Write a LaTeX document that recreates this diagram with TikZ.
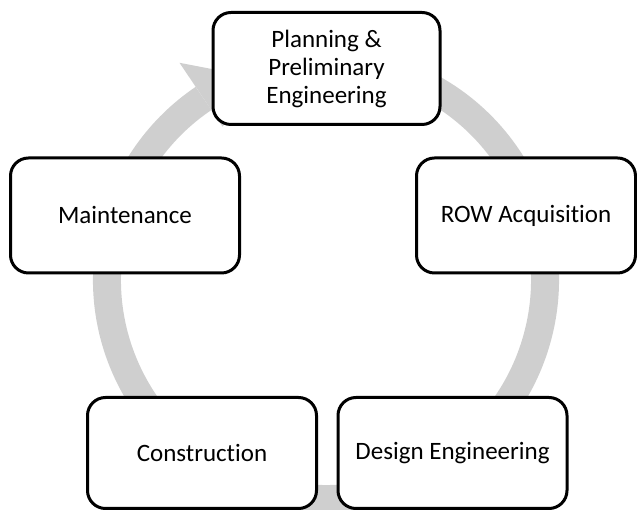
\documentclass[tikz,border=0pt]{standalone}
\usepackage{fontspec}
\setmainfont[Ligatures=NoCommon]{Carlito}
\definecolor{bandgray}{HTML}{CFCFCF}
\tikzset{
  stage/.style={draw=black, line width=3pt, fill=white, rounded corners=18pt,
    inner sep=0pt, minimum width=229pt, minimum height=112pt, align=center,
    font=\fontsize{25}{28}\selectfont},
  band/.style={draw=bandgray, line width=28pt}
}
\begin{document}
\begin{tikzpicture}[x=1pt,y=1pt]
\useasboundingbox (0,0) rectangle (637,510);
\coordinate (c) at (326,230);
% circular arrow
\draw[band] (c) ++(75:219) arc[start angle=75, end angle=-236, radius=219];
\begin{scope}[shift={(c)}]
\fill[bandgray] (124:262) -- (108:212) -- (124:185) -- cycle;
\end{scope}
% stages
\node[stage, minimum width=227pt] (plan) at (326.5,441.5) {Planning \&\\Preliminary\\Engineering};
\node[stage, minimum width=219pt, minimum height=115pt] (row) at (526,294.5) {ROW Acquisition};
\node[stage, minimum height=115pt] (maint) at (125,294.5) {Maintenance};
\node[stage, minimum height=111pt] (constr) at (202,57) {Construction};
\node[stage, minimum height=111pt] (design) at (452.5,57) {Design Engineering};
\end{tikzpicture}
\end{document}
